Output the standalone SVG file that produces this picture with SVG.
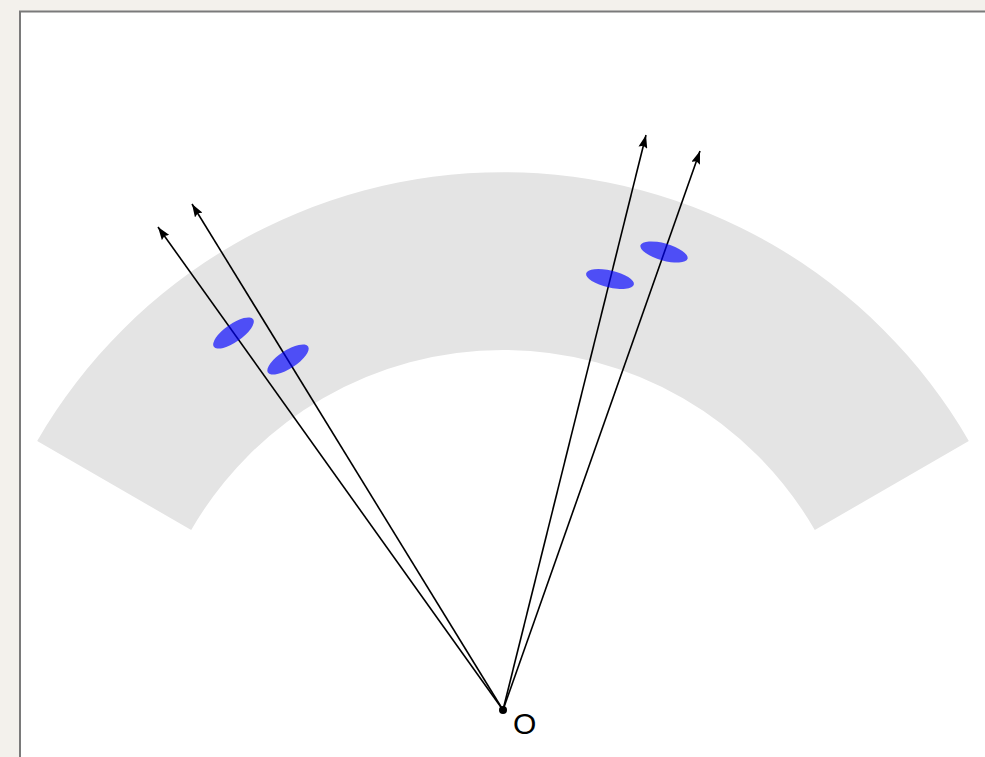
<svg xmlns="http://www.w3.org/2000/svg" width="985" height="757" viewBox="0 0 985 757">
  <style>
    .conn { stroke: #000; stroke-width: 1.6; fill: none; marker-end: url(#arrow); }
    .blob { fill: #0000ff; fill-opacity: 0.66; }
    .lbl { font-family: "Liberation Sans", Arial, sans-serif; font-size: 30px; fill: #000; }
  </style>
  <defs>
    <marker id="arrow" markerUnits="userSpaceOnUse" markerWidth="13" markerHeight="9" refX="13" refY="4.5" orient="auto">
      <path d="M0,0 L13,4.5 L0,9 L2,4.5 Z" fill="#000"/>
    </marker>
  </defs>
  <rect x="0" y="0" width="985" height="757" fill="#f3f1ec"/>
  <rect x="20" y="11.5" width="975" height="760" fill="#ffffff" stroke="#7a7a7a" stroke-width="2"/>
  <g id="band">
    <path d="M 37.2 441 A 538 538 0 0 1 968.8 441 L 814.8 530 A 360 360 0 0 0 191.2 530 Z" fill="#e4e4e4"/>
  </g>
  <g id="connectors">
    <line class="conn" x1="503" y1="710" x2="158" y2="227"/>
    <line class="conn" x1="503" y1="710" x2="192" y2="204"/>
    <line class="conn" x1="503" y1="710" x2="646" y2="135"/>
    <line class="conn" x1="503" y1="710" x2="700" y2="151"/>
  </g>
  <g id="blob-left-1"><ellipse class="blob" cx="233.5" cy="333" rx="24" ry="9" transform="rotate(-35 233.5 333)"/></g>
  <g id="blob-left-2"><ellipse class="blob" cx="288" cy="359.5" rx="24" ry="9" transform="rotate(-33 288 359.5)"/></g>
  <g id="blob-right-1"><ellipse class="blob" cx="610" cy="279" rx="24.5" ry="8.5" transform="rotate(13 610 279)"/></g>
  <g id="blob-right-2"><ellipse class="blob" cx="664" cy="252" rx="24.5" ry="8.5" transform="rotate(16 664 252)"/></g>
  <g id="origin">
    <circle cx="503" cy="710" r="4" fill="#000"/>
    <text class="lbl" x="513" y="733.5">O</text>
  </g>
</svg>
